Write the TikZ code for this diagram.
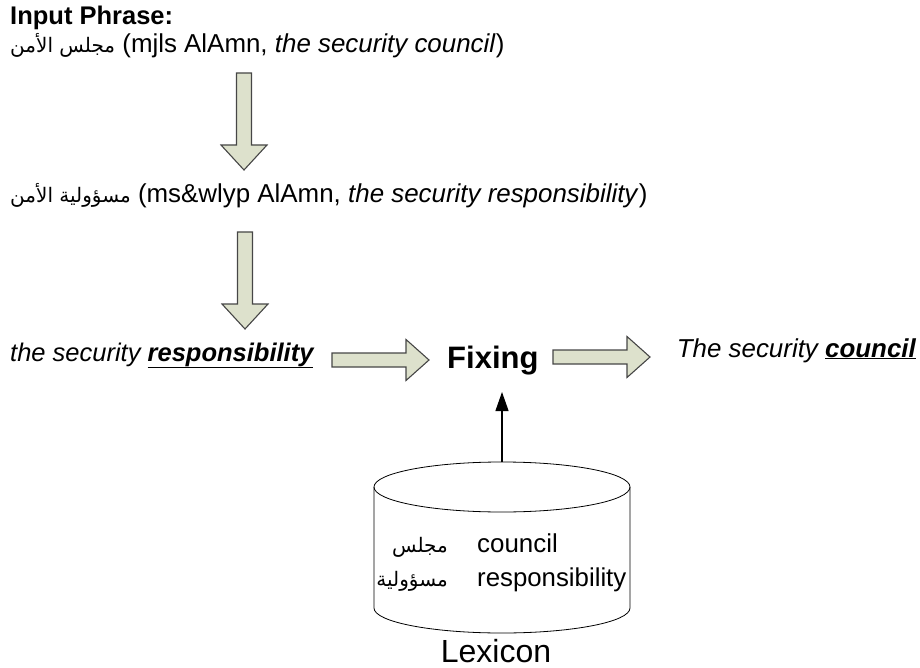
\documentclass[tikz,border=0pt]{standalone}
\usepackage{fontspec}
\setmainfont{Liberation Sans}
\newfontfamily\arabicfont[Script=Arabic]{DejaVu Sans}
\TeXXeTstate=1
\usetikzlibrary{arrows.meta}
\definecolor{arrowfill}{RGB}{221,225,204}
\definecolor{arrowline}{RGB}{70,70,70}
\newcommand{\txt}{\fontsize{25.9}{30}\selectfont}
\newcommand{\ar}[1]{{\arabicfont\fontsize{20}{24}\selectfont\beginR #1\endR}}
\tikzset{
  lbl/.style={inner sep=0pt, font=\txt},
  blockarr/.style={draw=arrowline, fill=arrowfill, line width=1.1pt, line join=miter},
  % block arrow pointing down, origin at top of shaft
  downarrow/.pic={
    \path[blockarr] (-7.5,0) -- (7.5,0) -- (7.5,72) -- (23,72) -- (0,97)
      -- (-23,72) -- (-7.5,72) -- cycle;
  },
  % block arrow pointing right, origin at left end of shaft
  rightarrow/.pic={
    \path[blockarr] (0,-7) -- (74,-7) -- (74,-20.5) -- (97,0) -- (74,20.5)
      -- (74,7) -- (0,7) -- cycle;
  },
}
\begin{document}
\begin{tikzpicture}[x=1pt, y=-1pt]
  \useasboundingbox (0,0) rectangle (920,668);

  % input phrase
  \node[lbl, anchor=base west, font=\fontsize{25.5}{30}\selectfont] (title) at (10,25) {\textbf{Input Phrase:}};
  \node[lbl, anchor=base west] (input) at (10,53)
    {\ar{مجلس الأمن} (mjls AlAmn, \textit{the security council})};

  \pic at (244,73) {downarrow};

  \node[lbl, anchor=base west] (inter) at (10,203)
    {\ar{مسؤولية الأمن} (ms\&wlyp AlAmn, \textit{the security responsibility})};

  \pic at (245,232) {downarrow};

  % translation row
  \node[lbl, anchor=base west, font=\fontsize{25.5}{30}\selectfont] (wrong) at (10,361)
    {\textit{the security \underline{\textbf{responsibility}}}};
  \pic at (332,360) {rightarrow};
  \node[inner sep=0pt, anchor=base west, font=\fontsize{31}{35}\selectfont\bfseries]
    (fix) at (447,368) {Fixing};
  \pic at (553,357) {rightarrow};
  \node[lbl, anchor=base east] (right) at (916,357)
    {\textit{The security \underline{\textbf{council}}}};

  % lexicon cylinder
  \draw[line width=0.8pt, fill=white] (374,487) -- (374,608)
    arc[start angle=180, end angle=360, x radius=128pt, y radius=25pt]
    -- (630,487);
  \draw[line width=0.8pt] (502,487) ellipse [x radius=128pt, y radius=25pt];
  \coordinate (lextop) at (502,462);
  \coordinate (fixin) at (502,392);
  \draw[line width=1.2pt, -{Triangle[length=19pt, width=13pt]}] (lextop) -- (fixin);

  \node[lbl, anchor=base east] (ar1) at (448,552) {\ar{مجلس}};
  \node[lbl, anchor=base west] (en1) at (477,552) {council};
  \node[lbl, anchor=base east] (ar2) at (448,586) {\ar{مسؤولية}};
  \node[lbl, anchor=base west, font=\fontsize{25.8}{30}\selectfont] (en2) at (477,586) {responsibility};

  \node[inner sep=0pt, anchor=base, font=\fontsize{32}{36}\selectfont] (lex) at (496,662) {Lexicon};
\end{tikzpicture}
\end{document}
